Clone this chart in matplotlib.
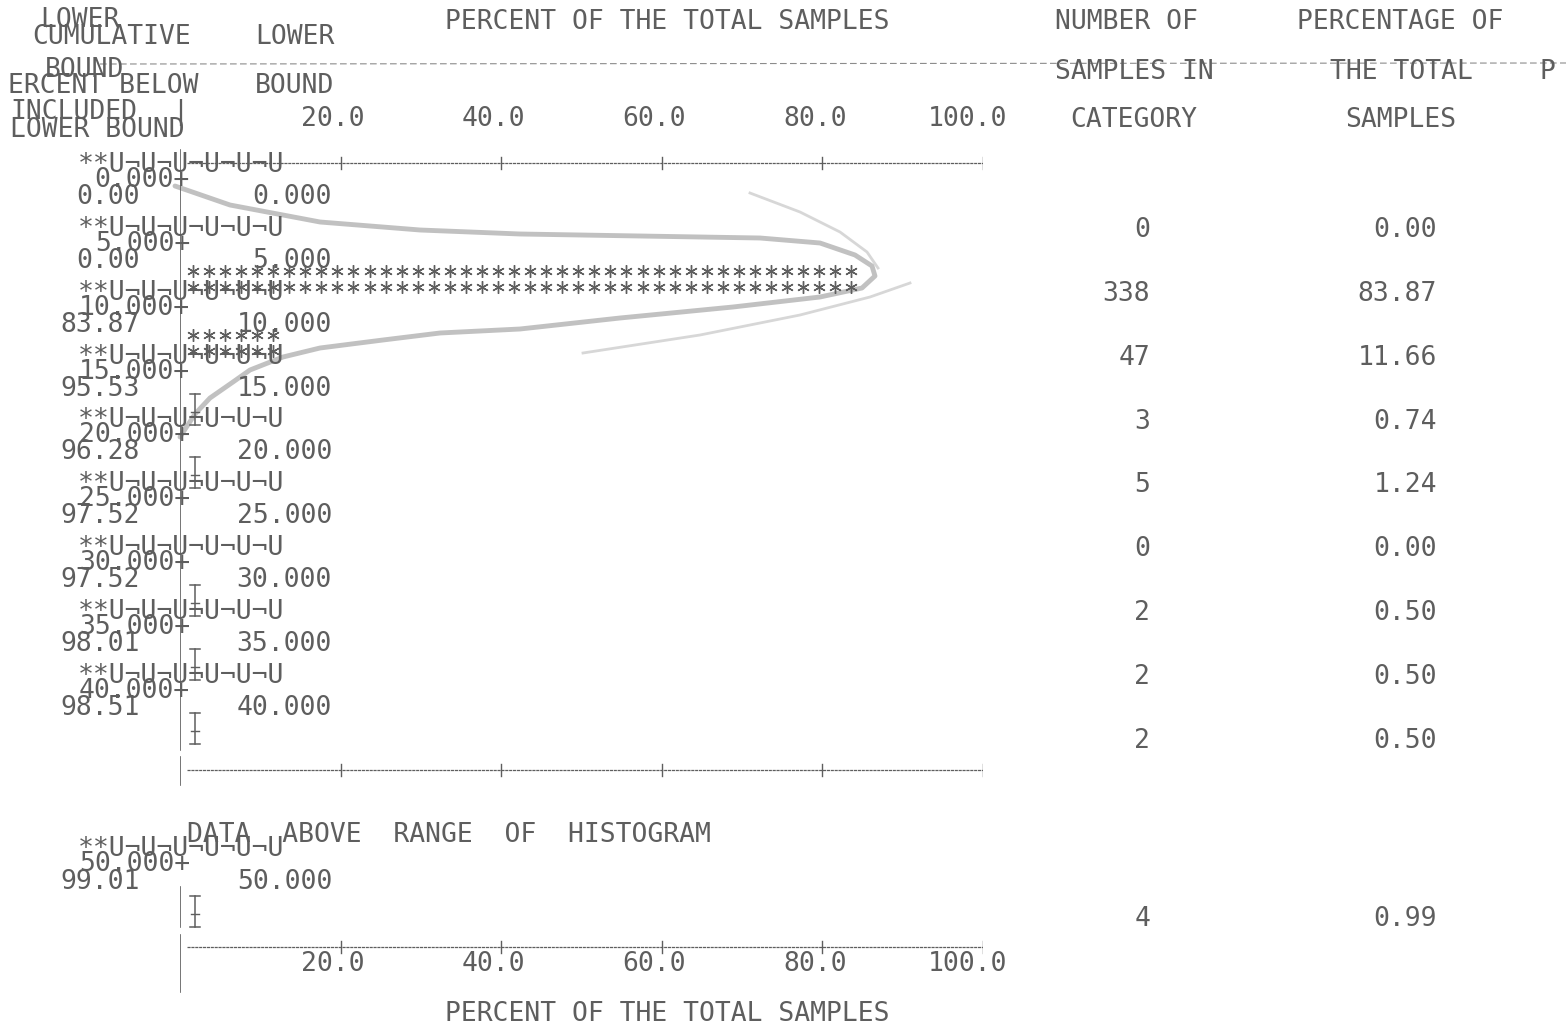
import numpy as np
import matplotlib.pyplot as plt
from matplotlib.transforms import offset_copy

# histogram table
lower_bounds = [0.0, 5.0, 10.0, 15.0, 20.0, 25.0, 30.0, 35.0, 40.0]
cum_below = [0.00, 0.00, 83.87, 95.53, 96.28, 97.52, 97.52, 98.01, 98.51]
counts = [0, 338, 47, 3, 5, 0, 2, 2, 2]
pcts = [0.00, 83.87, 11.66, 0.74, 1.24, 0.00, 0.50, 0.50, 0.50]
over_bound = 50.0
over_cum = 99.01
over_count = 4
over_pct = 0.99
ticks = [20.0, 40.0, 60.0, 80.0, 100.0]

ink = "#5e5e5e"
font = "DejaVu Sans Mono"
fs = 19
garbage = "**U\u00acU\u00acU\u00acU\u00acU\u00acU"

fig = plt.figure(figsize=(15.66, 10.24), dpi=100)
page = fig.add_axes([0, 0, 1, 1])
page.set_xlim(0, 1566)
page.set_ylim(1024, 0)
page.axis("off")
# histogram axes: x in percent, 0..100 -> pixel 180..983
hist = fig.add_axes([180 / 1566, 0, 803 / 1566, 1], sharey=page)
hist.set_xlim(0, 100)
hist.axis("off")


def t(x, y, s, ha="left", ax=None, size=fs, **kw):
    ax = ax or page
    ax.text(x, y + 9, s, ha=ha, va="baseline", family=font, size=size,
            color=ink, **kw)


# header
t(80, 18, "LOWER", ha="center")
t(32, 35, "CUMULATIVE")
t(255, 35, "LOWER")
t(45, 68, "BOUND")
t(8, 84, "ERCENT BELOW")
t(255, 84, "BOUND")
t(10, 110, "INCLUDED")
t(180, 110, "|", ha="center")
t(10, 128, "LOWER BOUND")
t(445, 20, "PERCENT OF THE TOTAL SAMPLES")
t(1055, 20, "NUMBER OF")
t(1055, 70, "SAMPLES IN")
t(1070, 118, "CATEGORY")
t(1297, 20, "PERCENTAGE OF")
t(1330, 70, "THE TOTAL")
t(1345, 118, "SAMPLES")
t(1540, 70, "P")
page.plot([100, 1566], [64, 63], color="#8c8c8c", lw=0.8, ls=(0, (6, 3)))

lab_tr = offset_copy(hist.transData, fig=fig, x=24, y=0, units="dots")
for v in ticks:
    hist.text(v, 126, f"{v:.1f}", ha="right", va="baseline", family=font,
              size=fs, color=ink, transform=lab_tr)


def axis_line(y):
    hist.plot([0.9, 100.3], [y, y], color=ink, lw=0.9, ls=(0, (2.5, 0.6)))
    for v in ticks:
        hist.plot([v, v], [y - 6, y + 6], color=ink, lw=1.0)


axis_line(163)
axis_line(770)
axis_line(947)
hist.plot([0, 0], [150, 750], color=ink, lw=1.2)
hist.plot([0, 0], [757, 785], color=ink, lw=1.2)
hist.plot([0, 0], [887, 927], color=ink, lw=1.2)
hist.plot([0, 0], [935, 992], color=ink, lw=1.2)

step = 63.85
for i, lb in enumerate(lower_bounds):
    b = 163 + step * i
    t(78, b, garbage)
    t(190, b + 15, f"{lb:.3f}+", ha="right")
    t(140, b + 32, f"{cum_below[i]:.2f}", ha="right")
    t(332, b + 32, f"{lb:.3f}", ha="right")


def bar(pct, row):
    n = int(round(pct / 2))
    if pct <= 0:
        return
    if n <= 1:
        # a bar shorter than one print column comes out as an I-beam
        hist.plot([1.9, 1.9], [row - 26, row + 5], color=ink, lw=1.1)
        for yy in (row - 26, row + 5):
            hist.plot([1.3, 2.5], [yy, yy], color=ink, lw=1.1)
        hist.plot([1.4, 2.4], [row - 8, row - 8], color=ink, lw=1.0)
        return
    xs = 1.6 + 2 * np.arange(n)
    for dy in (-21, -5):
        hist.plot(xs, np.full(n, row + dy), ls="none", marker=(6, 2, 0),
                  ms=9, mew=1.0, color=ink)


for i in range(len(counts)):
    row = 228 + step * i
    bar(pcts[i], row)
    t(1150, row, str(counts[i]), ha="right")
    t(1437, row, f"{pcts[i]:.2f}", ha="right")

# data above range
t(187, 833, "DATA  ABOVE  RANGE  OF  HISTOGRAM")
t(78, 847, garbage)
t(190, 862, f"{over_bound:.3f}+", ha="right")
t(140, 880, f"{over_cum:.2f}", ha="right")
t(332, 880, f"{over_bound:.3f}", ha="right")
bar(over_pct, 922)
t(1150, 917, str(over_count), ha="right")
t(1437, 917, f"{over_pct:.2f}", ha="right")

for v in ticks:
    hist.text(v, 971, f"{v:.1f}", ha="right", va="baseline", family=font,
              size=fs, color=ink, transform=lab_tr)
t(445, 1012, "PERCENT OF THE TOTAL SAMPLES")

# pencil loop drawn by hand around the tall bar
pen_x = [175, 230, 320, 420, 520, 640, 760, 820, 855, 872, 875, 862, 820, 733,
         620, 520, 440, 383, 320, 283, 250, 233, 210, 195, 180]
pen_y = [186, 205, 222, 230, 234, 236, 238, 243, 255, 266, 276, 288, 297, 307,
         318, 329, 333, 340, 348, 357, 370, 382, 398, 414, 437]
page.plot(pen_x, pen_y, color="#8f8f8f", lw=3.5, alpha=0.55,
          solid_capstyle="round", solid_joinstyle="round")
page.plot([750, 800, 840, 867, 878], [193, 212, 232, 252, 268],
          color="#b0b0b0", lw=2, alpha=0.5)
page.plot([583, 700, 800, 870, 910], [353, 335, 315, 297, 283],
          color="#b0b0b0", lw=2, alpha=0.5)

fig.savefig("out.png", dpi=100, facecolor="white")
